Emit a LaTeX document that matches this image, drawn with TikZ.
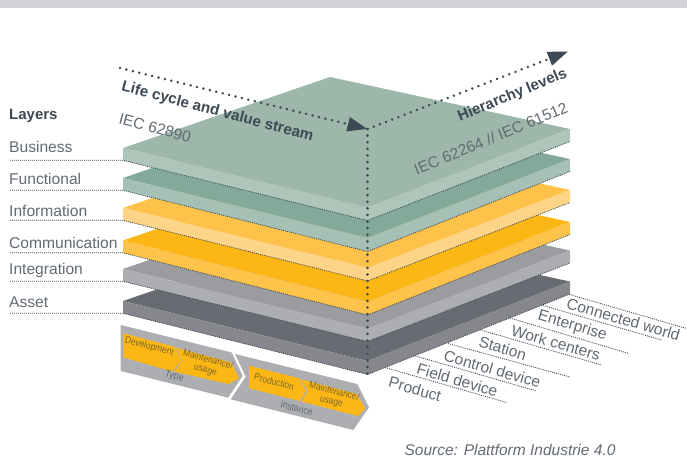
\documentclass[tikz,border=0pt]{standalone}
\usepackage{fontspec}
\setmainfont{Liberation Sans}
\newfontfamily\narrowfont[FakeStretch=0.87]{Liberation Sans}
\usetikzlibrary{arrows.meta}
\definecolor{inkdark}{HTML}{3D4955}
\definecolor{inkgrey}{HTML}{626A73}
\definecolor{inkyellow}{HTML}{7A682A}
\definecolor{bandgrey}{HTML}{D3D3D8}
\definecolor{barrowgrey}{HTML}{ADAEB1}
\definecolor{barrowyellow}{HTML}{FDB714}
\tikzset{
  leader/.style={inkdark,line width=0.8pt,dash pattern=on 1pt off 1pt},
  axisdots/.style={inkdark,line width=2.8pt,line cap=round,dash pattern=on 0.01pt off 6.6pt},
  axistip/.style={-{Triangle[length=20pt,width=14pt]}},
  layertext/.style={anchor=west,inner sep=0pt,text=inkgrey,font=\fontsize{15.6}{17}\selectfont},
  leveltext/.style={inner sep=0pt,rotate=-16.2,text=inkgrey,font=\fontsize{15.6}{17}\selectfont},
  axistext/.style={inner sep=0pt,text=inkdark,font=\bfseries\fontsize{15.2}{17}\selectfont},
  normtext/.style={inner sep=0pt,text=inkgrey,font=\fontsize{15.6}{17}\selectfont},
  stagetext/.style={inner sep=0pt,rotate=-15,align=center,text=inkyellow,font=\narrowfont\fontsize{9.8}{10.4}\selectfont},
  grouptext/.style={inner sep=0pt,rotate=-15,text=inkgrey,font=\narrowfont\fontsize{10}{11}\selectfont},
}
\begin{document}
\begin{tikzpicture}[x=1pt,y=1pt,yscale=-1,xscale=1]
\useasboundingbox (0,0) rectangle (687,458);

%Shape: Rectangle [top band]
\fill [bandgrey] (0,0) rectangle (687,8);

%Shape: Layers, lowest first
\foreach \lname/\ltext/\ylab/\yl/\yf/\yr/\topcol/\sidecol in {
  asset/Asset/302/301/361/281.5/686B71/85878C,
  integration/Integration/270.5/269/328/250.5/9B9C9F/ADAEB1,
  communication/Communication/243/240.5/301.5/222/FDB714/FEC34B,
  information/Information/211/208/267.5/190/FEC24A/FED588,
  functional/Functional/179/178/238/159/83A99A/A7C0B5,
  business/Business/147/148/207/129/9DB8AB/AEC5BA}
{
  \definecolor{topcol}{HTML}{\topcol}
  \definecolor{sidecol}{HTML}{\sidecol}
  \coordinate (\lname-l) at (123,\yl);
  \coordinate (\lname-b) at (330,\yl-71);
  \coordinate (\lname-r) at (570,\yr);
  \coordinate (\lname-f) at (367.5,\yf);
  \coordinate (\lname-ll) at (123,\yl+12.3);
  \coordinate (\lname-rr) at (570,\yr+12.5);
  \coordinate (\lname-ff) at (367.5,\yf+13.5);
  \coordinate (\lname-end) at (10,\yl+12.3);
  \fill [topcol] (\lname-l) -- (\lname-b) -- (\lname-r) -- (\lname-f) -- cycle;
  \fill [sidecol] (\lname-l) -- (\lname-f) -- (\lname-r) -- (\lname-rr) -- (\lname-ff) -- (\lname-ll) -- cycle;
  \draw [leader] (\lname-end) -- (\lname-ll) -- (\lname-ff) -- (\lname-rr);
  \node [layertext] (\lname) at (9,\ylab) {\ltext};
}

%Lines: hierarchy level leaders
\foreach \lvl/\xa/\ya/\xb/\yb in {
  connected/569.5/294.5/686.5/328.5,
  enterprise/541.5/305/661.5/340,
  workcenters/510/318/629/353.5,
  station/480.5/330/601.5/365,
  controldevice/448/343.5/570/377,
  fielddevice/415.5/356/536.5/391,
  product/385/367.5/506.5/402.5}
{
  \coordinate (\lvl-a) at (\xa,\ya);
  \coordinate (\lvl-b) at (\xb,\yb);
  \draw [leader] (\lvl-a) -- (\lvl-b);
}

%Lines: axes
\coordinate (corner) at (367.5,129);
\coordinate (lifestart) at (120,68);
\coordinate (hierend) at (568,51.5);
\coordinate (cornerdown) at (367.5,374);
\draw [axisdots,axistip] (lifestart) -- (corner);
\draw [axisdots,axistip] (corner) -- (hierend);
\draw [axisdots] (corner) -- (cornerdown);

%Shape: Chevrons
\fill [barrowgrey] (120.7,325) -- (231.7,352.5) -- (242.7,375.7) -- (228.3,397.7) -- (120.7,371) -- cycle;
\fill [barrowgrey] (235,354) -- (357.3,384) -- (369,407.3) -- (353.3,430) -- (230.7,399.3) -- (245.7,376.7) -- cycle;
\fill [barrowyellow] (123.3,333.3) -- (174,346.7) -- (181,360.7) -- (172.7,371.7) -- (123.3,357.3) -- cycle;
\fill [barrowyellow] (175.7,347.7) -- (230.7,362.3) -- (239,378.3) -- (228.3,384) -- (175,371.7) -- (181.7,360.7) -- cycle;
\fill [barrowyellow] (249,365.7) -- (299.3,378.3) -- (306,391) -- (300,401) -- (249,388.3) -- cycle;
\fill [barrowyellow] (301,379.3) -- (356.7,394) -- (365,408.3) -- (358.3,416) -- (301.7,401.7) -- (307.7,391) -- cycle;

% Text Node
\node [layertext,font=\bfseries\fontsize{15}{17}\selectfont,text=inkdark] (layers) at (9,116) {Layers};
% Text Node
\node [axistext,rotate=-14.8] (lifecycle) at (217.5,112) {Life cycle and value stream};
% Text Node
\node [axistext,rotate=22.5] (hierarchy) at (512.5,95.5) {Hierarchy levels};
% Text Node
\node [normtext,rotate=-15] (iecleft) at (155,128) {IEC 62890};
% Text Node
\node [normtext,rotate=22.7] (iecright) at (490.7,138.3) {IEC 62264 // IEC 61512};
% Text Node
\node [leveltext] (connectedtext) at (623.3,319.3) {Connected world};
\node [leveltext] (enterprisetext) at (572.3,326) {Enterprise};
\node [leveltext] (workcenterstext) at (556,342.7) {Work centers};
\node [leveltext] (stationtext) at (502.7,348.3) {Station};
\node [leveltext] (controldevicetext) at (492.3,369) {Control device};
\node [leveltext] (fielddevicetext) at (457.3,380) {Field device};
\node [leveltext] (producttext) at (415,389) {Product};
% Text Node
\node [stagetext] (development) at (149.3,346.7) {Development};
\node [stagetext] (maintenancea) at (206.7,365) {Maintenance/\\usage};
\node [stagetext] (production) at (274.3,381.7) {Production};
\node [stagetext] (maintenanceb) at (332.7,396.7) {Maintenance/\\usage};
\node [grouptext] (type) at (174.3,376.7) {Type};
\node [grouptext] (instance) at (296.7,408.3) {Instance};
% Text Node
\node [inner sep=0pt,text=inkgrey,font=\itshape\fontsize{15.5}{17}\selectfont] (source) at (510,450) {Source: Plattform Industrie 4.0};
\end{tikzpicture}
\end{document}
